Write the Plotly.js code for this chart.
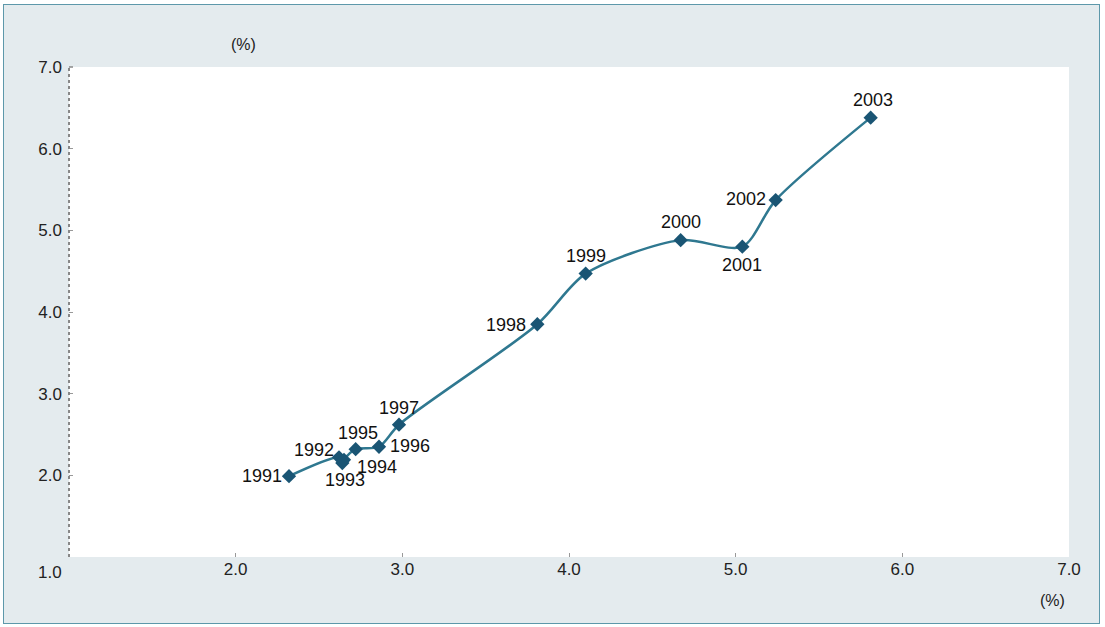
<!DOCTYPE html>
<html>
<head>
<meta charset="utf-8">
<script src="https://cdn.plot.ly/plotly-3.0.1.min.js"></script>
<style>
  html, body { margin: 0; padding: 0; background: #ffffff; }
  #wrap { position: relative; width: 1105px; height: 627px; overflow: hidden; }
  #frame { position: absolute; left: 3px; top: 4px; width: 1095px; height: 618px;
           border: 1.5px solid #5d98aa; background: #e4ebee; }
  #chart { position: absolute; left: 0; top: 0; width: 1105px; height: 627px; }
</style>
</head>
<body>
<div id="wrap">
  <div id="frame"></div>
  <div id="chart"></div>
</div>
<script>
// Data
const years = ["1991","1992","1993","1994","1995","1996","1997","1998","1999","2000","2001","2002","2003"];
const xValues = [2.32, 2.62, 2.64, 2.65, 2.72, 2.86, 2.98, 3.81, 4.10, 4.67, 5.04, 5.24, 5.81];
const yValues = [1.99, 2.22, 2.15, 2.19, 2.32, 2.35, 2.62, 3.85, 4.47, 4.88, 4.80, 5.37, 6.38];
const tickValues = [1, 2, 3, 4, 5, 6, 7];
const tickLabels = ["1.0", "2.0", "3.0", "4.0", "5.0", "6.0", "7.0"];

// Label placement (style only): [xanchor, xshift, yshift]
const labelStyle = [
  ["right", -5, 0],   // 1991
  ["right", -3, 7],   // 1992
  ["center", 3, -17], // 1993
  ["left", 11, -7],   // 1994
  ["center", 2, 16],  // 1995
  ["left", 9, 1],     // 1996
  ["center", 0, 17],  // 1997
  ["right", -9, -1],  // 1998
  ["center", 0, 18],  // 1999
  ["center", 0, 18],  // 2000
  ["center", 0, -18], // 2001
  ["right", -8, 1],   // 2002
  ["center", 2, 18]   // 2003
];

const FONT = "Liberation Sans, Arial, sans-serif";

const trace = {
  x: xValues,
  y: yValues,
  mode: "lines+markers",
  type: "scatter",
  line: { color: "#2f7890", width: 2.5, shape: "spline", smoothing: 0.8 },
  marker: { symbol: "diamond", size: 11, color: "#1a5574", line: { width: 0 } },
  cliponaxis: false,
  hoverinfo: "skip"
};

const pointLabels = years.map((yr, i) => ({
  text: yr, xref: "x", yref: "y", x: xValues[i], y: yValues[i],
  xanchor: labelStyle[i][0], yanchor: "middle",
  xshift: labelStyle[i][1], yshift: labelStyle[i][2],
  showarrow: false,
  font: { family: FONT, size: 18, color: "#111111" }
}));

const layout = {
  width: 1105,
  height: 627,
  margin: { l: 69, r: 36, t: 67, b: 70 },
  paper_bgcolor: "rgba(0,0,0,0)",
  plot_bgcolor: "#ffffff",
  showlegend: false,
  font: { family: FONT, size: 17, color: "#222222" },
  xaxis: {
    range: [1, 7],
    tickvals: tickValues.slice(1),
    ticktext: tickLabels.slice(1),
    ticks: "inside",
    ticklen: 4,
    tickcolor: "#999999",
    tickfont: { family: FONT, size: 17, color: "#222222" },
    showgrid: false,
    zeroline: false,
    showline: false,
    fixedrange: true
  },
  yaxis: {
    range: [1, 7],
    tickvals: tickValues.slice(1),
    ticktext: tickLabels.slice(1),
    ticks: "inside",
    ticklen: 4,
    tickcolor: "#999999",
    tickfont: { family: FONT, size: 17, color: "#222222" },
    ticklabelstandoff: 6,
    showgrid: false,
    zeroline: false,
    showline: false,
    fixedrange: true
  },
  shapes: [
    { type: "line", xref: "paper", yref: "paper", x0: 0, x1: 0, y0: 0, y1: 1,
      line: { color: "#888888", width: 2, dash: "dot" } },
    { type: "line", xref: "paper", yref: "paper", x0: 0, x1: 0.004, y0: 1, y1: 1,
      line: { color: "#888888", width: 1.5 } }
  ],
  annotations: [
    { text: tickLabels[0], xref: "paper", yref: "paper", x: -0.019, y: -0.008,
      xanchor: "center", yanchor: "top", showarrow: false,
      font: { family: FONT, size: 17, color: "#222222" } },
    { text: "(%)", xref: "paper", yref: "paper", x: 0.174, y: 1.024,
      xanchor: "center", yanchor: "bottom", showarrow: false,
      font: { family: FONT, size: 16, color: "#222222" } },
    { text: "(%)", xref: "paper", yref: "paper", x: 0.983, y: -0.068,
      xanchor: "center", yanchor: "top", showarrow: false,
      font: { family: FONT, size: 16, color: "#222222" } }
  ].concat(pointLabels)
};

Plotly.newPlot("chart", [trace], layout, { displayModeBar: false, staticPlot: true });
</script>
</body>
</html>
